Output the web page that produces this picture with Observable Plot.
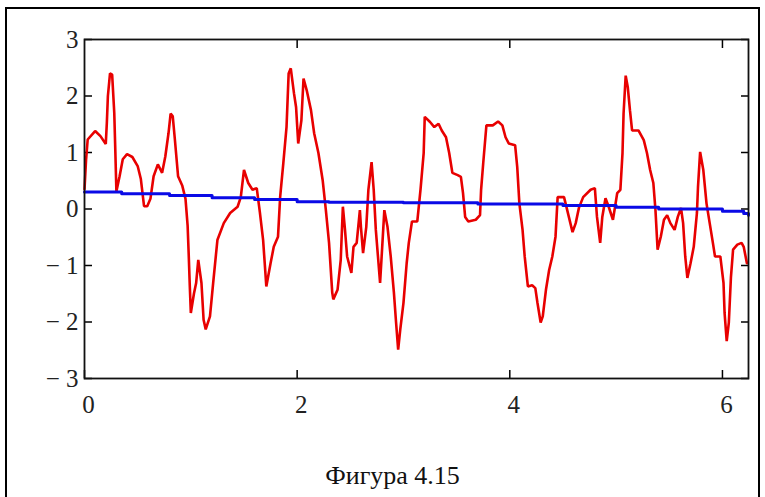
<!DOCTYPE html>
<html>
<head>
<meta charset="utf-8">
<script src="https://cdn.jsdelivr.net/npm/d3@7"></script>
<script src="https://cdn.jsdelivr.net/npm/@observablehq/plot@0.6"></script>
<style>
  html, body { margin: 0; padding: 0; background: #fff; }
  #wrap { position: relative; width: 765px; height: 497px; overflow: hidden; }
  #outer { position: absolute; left: 5px; top: 7px; width: 755px; height: 520px; border: 2px solid #000; box-sizing: border-box; }
  #chart { position: absolute; left: 0; top: 0; }
</style>
</head>
<body>
<div id="wrap"><div id="outer"></div><div id="chart"></div></div>
<script>
const redX = [0.00,0.015,0.03,0.10,0.15,0.20,0.21,0.22,0.24,0.26,0.28,0.29,0.30,0.33,0.36,0.40,0.45,0.50,0.53,0.56,0.59,0.62,0.65,0.69,0.73,0.76,0.79,0.81,0.83,0.85,0.88,0.92,0.95,0.97,0.98,0.99,1.00,1.03,1.05,1.07,1.10,1.12,1.14,1.18,1.21,1.25,1.31,1.37,1.44,1.47,1.50,1.54,1.58,1.62,1.65,1.68,1.71,1.75,1.78,1.82,1.84,1.87,1.90,1.92,1.94,1.97,1.99,2.01,2.04,2.06,2.09,2.13,2.16,2.20,2.24,2.27,2.30,2.33,2.34,2.38,2.41,2.43,2.45,2.47,2.51,2.53,2.56,2.59,2.60,2.62,2.65,2.67,2.70,2.72,2.74,2.76,2.78,2.80,2.82,2.85,2.88,2.91,2.93,2.95,2.97,3.00,3.03,3.05,3.08,3.13,3.16,3.19,3.20,3.25,3.29,3.33,3.36,3.40,3.43,3.46,3.51,3.54,3.56,3.58,3.61,3.68,3.72,3.73,3.75,3.78,3.84,3.89,3.93,3.96,3.99,4.05,4.07,4.09,4.12,4.14,4.17,4.21,4.24,4.26,4.29,4.31,4.34,4.37,4.40,4.43,4.45,4.51,4.54,4.59,4.62,4.65,4.69,4.76,4.80,4.82,4.85,4.87,4.90,4.93,4.97,4.99,5.01,5.04,5.06,5.07,5.09,5.11,5.13,5.15,5.21,5.26,5.29,5.32,5.35,5.37,5.39,5.42,5.45,5.48,5.51,5.55,5.58,5.61,5.63,5.65,5.67,5.70,5.73,5.76,5.77,5.79,5.82,5.85,5.88,5.91,5.93,5.98,6.01,6.02,6.04,6.06,6.08,6.10,6.14,6.18,6.20,6.23];
const redY = [0.35,0.88,1.23,1.38,1.29,1.15,1.52,2.00,2.40,2.38,1.70,1.02,0.31,0.58,0.88,0.97,0.92,0.76,0.53,0.05,0.05,0.18,0.58,0.79,0.64,0.93,1.34,1.69,1.64,1.23,0.58,0.41,0.18,-0.30,-0.80,-1.35,-1.84,-1.49,-1.31,-0.90,-1.31,-1.96,-2.13,-1.90,-1.31,-0.55,-0.25,-0.07,0.04,0.21,0.69,0.46,0.34,0.37,-0.07,-0.55,-1.37,-0.96,-0.67,-0.49,0.21,0.81,1.45,2.40,2.49,2.05,1.80,1.16,1.57,2.31,2.10,1.75,1.34,0.99,0.51,-0.02,-0.60,-1.48,-1.60,-1.43,-0.90,0.04,-0.37,-0.84,-1.13,-0.67,-0.60,-0.02,-0.32,-0.78,-0.32,0.34,0.83,0.34,-0.37,-0.84,-1.31,-0.67,-0.02,-0.32,-0.84,-1.48,-2.00,-2.49,-2.13,-1.66,-0.96,-0.60,-0.22,-0.22,0.34,0.99,1.63,1.54,1.45,1.51,1.39,1.27,0.99,0.64,0.60,0.57,0.28,-0.14,-0.22,-0.19,-0.11,0.34,0.81,1.48,1.48,1.55,1.48,1.27,1.16,1.13,0.74,0.10,-0.37,-0.84,-1.37,-1.35,-1.40,-1.66,-2.01,-1.90,-1.43,-1.08,-0.84,-0.49,0.21,0.21,-0.02,-0.41,-0.25,0.02,0.21,0.34,0.37,-0.14,-0.60,-0.14,0.19,0.04,-0.19,0.04,0.28,0.34,0.99,1.69,2.36,2.15,1.75,1.39,1.39,1.22,0.99,0.69,0.46,-0.02,-0.72,-0.49,-0.19,-0.11,-0.25,-0.37,-0.14,0.02,-0.25,-0.84,-1.22,-0.96,-0.67,-0.07,0.39,1.01,0.69,0.10,-0.25,-0.60,-0.84,-0.84,-1.31,-1.84,-2.34,-2.01,-1.20,-0.72,-0.63,-0.60,-0.67,-0.96];
const blueX = [0,0.10,0.35,0.80,1.20,1.60,2.00,2.30,3.00,3.70,4.50,5.00,5.40,6.00,6.20,6.245];
const blueY = [0.30,0.30,0.27,0.24,0.20,0.17,0.13,0.12,0.11,0.09,0.06,0.03,0.00,-0.04,-0.08,-0.11];
const xTicks = [0, 2, 4, 6];
const yTicks = [-3, -2, -1, 0, 1, 2, 3];
const caption = "Фигура 4.15";

const red = redX.map((x, i) => ({x, y: redY[i]}));
const blue = blueX.map((x, i) => ({x, y: blueY[i]}));
const font = "'Liberation Serif', 'Times New Roman', serif";
const fmtY = d => d < 0 ? "\u2212 " + Math.abs(d) : String(d);
const fmtX = d => String(d);

const chart = Plot.plot({
  width: 765,
  height: 497,
  marginLeft: 84,
  marginRight: 17,
  marginTop: 39,
  marginBottom: 119,
  style: {fontFamily: font, background: "transparent", color: "#000"},
  x: {domain: [0, 6.245], label: null},
  y: {domain: [-3, 3], label: null},
  marks: [
    Plot.axisY({ticks: yTicks, anchor: "left", tickSize: -8, text: null, label: null, strokeWidth: 1.5}),
    Plot.axisY({ticks: yTicks, anchor: "right", tickSize: -8, text: null, label: null, strokeWidth: 1.5}),
    Plot.axisX({ticks: xTicks, anchor: "bottom", tickSize: -8, text: null, label: null, strokeWidth: 1.5}),
    Plot.axisX({ticks: xTicks.filter(d => d > 0), anchor: "top", tickSize: -8, text: null, label: null, strokeWidth: 1.5}),
    Plot.axisY({ticks: yTicks, anchor: "left", tickSize: 0, tickPadding: 6, tickFormat: fmtY, label: null, fontSize: 25, fill: "#222"}),
    Plot.axisX({ticks: xTicks, anchor: "bottom", tickSize: 0, tickPadding: 17, tickFormat: fmtX, label: null, fontSize: 25, fill: "#222", dx: 4}),
    Plot.line(red, {x: "x", y: "y", stroke: "#e80000", strokeWidth: 2.6, strokeLinejoin: "miter"}),
    Plot.line(blue, {x: "x", y: "y", stroke: "#0a0ae6", strokeWidth: 3, curve: "step-after"}),
    Plot.frame({stroke: "#111", strokeWidth: 1.8}),
    Plot.text([caption], {frameAnchor: "bottom", dx: -24, dy: 105, lineAnchor: "bottom", fontSize: 26, fontFamily: font, fill: "#111"})
  ]
});
document.getElementById("chart").appendChild(chart);
</script>
</body>
</html>
